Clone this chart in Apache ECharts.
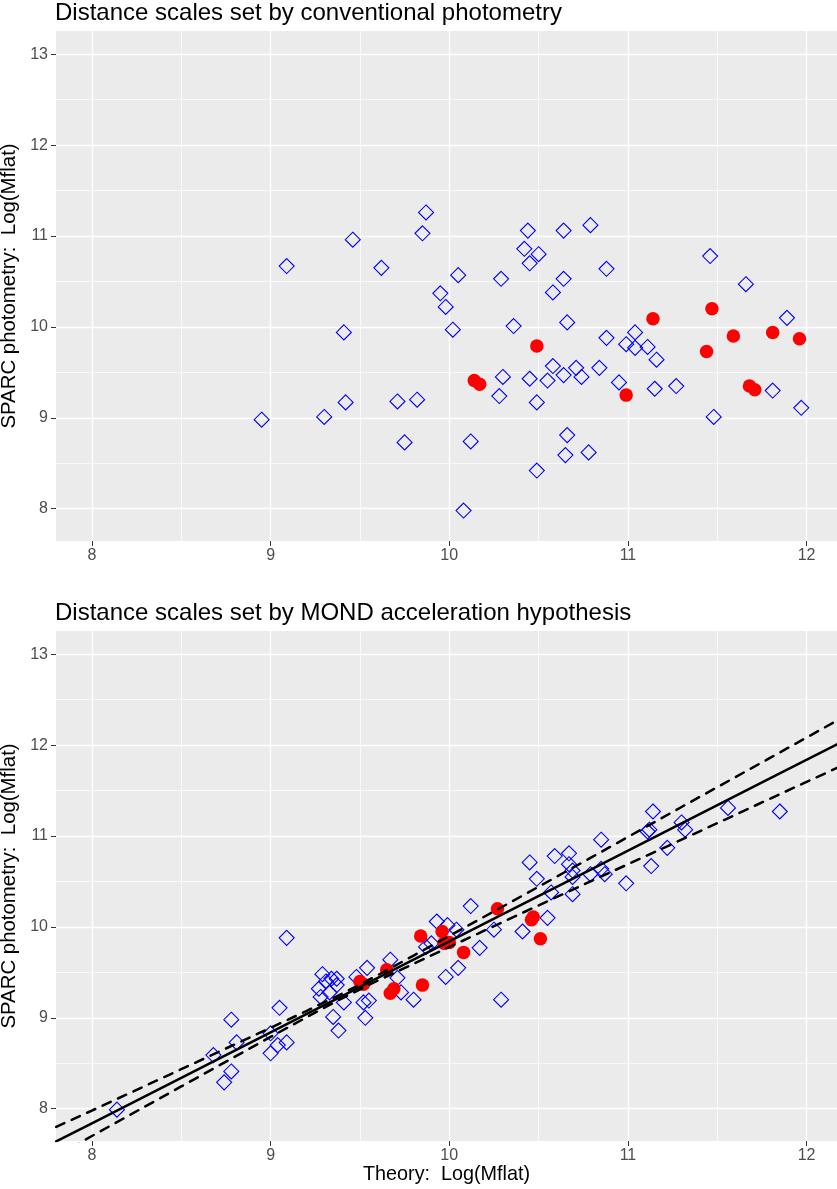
<!DOCTYPE html>
<html>
<head>
<meta charset="utf-8">
<script src="https://cdn.jsdelivr.net/npm/echarts@6/dist/echarts.min.js"></script>
<style>
html,body{margin:0;padding:0;background:#ffffff;}
#chart{width:837px;height:1189px;}
</style>
</head>
<body>
<div id="chart"></div>
<script>
// ---------- data ----------
const titles = ['Distance scales set by conventional photometry', 'Distance scales set by MOND acceleration hypothesis'];
const xAxisTitle = 'Theory:  Log(Mflat)';
const yAxisTitle = 'SPARC photometry:  Log(Mflat)';
const xTicks = [8, 9, 10, 11, 12];
const yTicks = [8, 9, 10, 11, 12, 13];
const xMinor = [8.5, 9.5, 10.5, 11.5];
const yMinor = [8.5, 9.5, 10.5, 11.5, 12.5];

// top panel: open blue diamonds
const topOpen = [
  [8.95,8.98],[9.09,10.67],[9.30,9.01],[9.41,9.94],[9.42,9.17],[9.46,10.96],[9.62,10.65],
  [9.71,9.18],[9.75,8.73],[9.82,9.20],[9.85,11.03],[9.87,11.26],[9.95,10.37],[9.98,10.22],
  [10.02,9.97],[10.05,10.57],[10.08,7.98],[10.12,8.74],[10.29,10.53],[10.30,9.45],[10.28,9.24],
  [10.36,10.01],[10.42,10.86],[10.44,11.06],[10.45,10.70],[10.50,10.80],[10.45,9.43],[10.49,9.17],
  [10.49,8.42],[10.58,10.38],[10.58,9.57],[10.55,9.41],[10.64,9.47],[10.66,10.05],[10.64,11.06],
  [10.64,10.53],[10.66,8.81],[10.65,8.59],[10.71,9.55],[10.74,9.45],[10.78,8.62],[10.79,11.12],
  [10.84,9.55],[10.88,10.64],[10.88,9.88],[10.95,9.39],[10.99,9.81],[11.04,9.94],[11.04,9.77],
  [11.11,9.78],[11.16,9.64],[11.15,9.32],[11.27,9.35],[11.46,10.78],[11.48,9.01],[11.66,10.47],
  [11.89,10.10],[11.81,9.30],[11.97,9.11]
];
// top panel: filled red circles
const topFilled = [
  [10.14,9.41],[10.17,9.37],[10.49,9.79],[10.99,9.25],[11.14,10.09],[11.47,10.20],
  [11.44,9.73],[11.59,9.90],[11.68,9.35],[11.71,9.31],[11.81,9.94],[11.96,9.87]
];
// bottom panel: open blue diamonds
const botOpen = [
  [8.14,7.99],[8.68,8.59],[8.78,8.98],[8.81,8.73],[8.78,8.41],[8.74,8.29],[9.05,9.11],
  [9.00,8.83],[9.00,8.61],[9.04,8.70],[9.09,8.73],[9.09,9.88],
  [9.27,9.32],[9.28,9.23],[9.29,9.48],[9.31,9.40],[9.33,9.28],[9.34,9.43],[9.37,9.43],[9.37,9.36],
  [9.35,9.01],[9.38,8.86],[9.41,9.17],[9.48,9.45],[9.54,9.55],[9.53,9.00],[9.52,9.17],
  [9.55,9.19],[9.67,9.64],[9.71,9.44],[9.73,9.28],[9.80,9.20],[9.87,9.78],
  [9.93,10.06],[9.99,10.02],[10.04,9.97],[9.90,9.82],[10.05,9.55],[9.98,9.45],[10.12,10.23],
  [10.25,9.97],[10.17,9.77],[10.29,9.20],[10.41,9.95],[10.55,10.10],
  [10.49,10.53],[10.57,10.38],[10.69,10.36],[10.45,10.71],[10.59,10.78],[10.67,10.81],
  [10.67,10.69],[10.69,10.62],[10.69,10.55],[10.79,10.58],[10.85,10.64],[10.87,10.58],
  [10.85,10.96],[10.99,10.48],
  [11.14,11.27],[11.11,11.05],[11.12,11.07],[11.30,11.15],[11.32,11.07],[11.22,10.87],
  [11.13,10.67],[11.56,11.31],[11.85,11.27]
];
// bottom panel: filled red circles
const botFilled = [
  [9.50,9.40],[9.52,9.37],[9.65,9.53],[9.67,9.27],[9.69,9.32],[9.84,9.90],[9.85,9.36],
  [9.96,9.95],[9.97,9.82],[10.00,9.83],[10.08,9.72],[10.27,10.20],[10.46,10.08],[10.47,10.11],[10.51,9.87]
];
// bottom panel: fitted line and dashed band
const fitX   = [7.80, 8.00, 8.50, 9.00, 9.20, 9.40, 9.60, 9.80, 10.30, 10.80, 11.30, 11.80, 12.17];
const fitY   = [7.64, 7.84, 8.34, 8.84, 9.04, 9.24, 9.44, 9.64, 10.14, 10.64, 11.14, 11.64, 12.01];
const upperY = [7.80, 7.98, 8.435, 8.89, 9.075, 9.265, 9.47, 9.685, 10.225, 10.77, 11.32, 11.865, 12.27];
const lowerY = [7.48, 7.70, 8.245, 8.79, 9.005, 9.215, 9.41, 9.595, 10.055, 10.51, 10.96, 11.415, 11.75];

// ---------- layout / style ----------
const X_MIN = 7.799, X_MAX = 12.17;
const Y_MIN = 7.645, Y_MAX = 13.256;
const FONT = '"Liberation Sans", Arial, sans-serif';
const PANEL_LEFT = 56, PANEL_H = 510;
const PANEL_TOPS = [31, 631];

const chart = echarts.init(document.getElementById('chart'), null, {renderer: 'canvas'});

function gridLinesSeries(i) {
  return {
    type: 'scatter', xAxisIndex: i, yAxisIndex: i, data: [], silent: true, z: 1,
    markLine: {
      silent: true, symbol: 'none', animation: false, z: 1,
      label: {show: false},
      emphasis: {disabled: true},
      data: [].concat(
        xMinor.map(v => ({xAxis: v, lineStyle: {color: '#ffffff', width: 0.7, type: 'solid', opacity: 1}})),
        yMinor.map(v => ({yAxis: v, lineStyle: {color: '#ffffff', width: 0.7, type: 'solid', opacity: 1}})),
        xTicks.map(v => ({xAxis: v, lineStyle: {color: '#ffffff', width: 1.4, type: 'solid', opacity: 1}})),
        yTicks.map(v => ({yAxis: v, lineStyle: {color: '#ffffff', width: 1.4, type: 'solid', opacity: 1}}))
      )
    }
  };
}
function openSeries(i, data) {
  return {
    type: 'scatter', xAxisIndex: i, yAxisIndex: i, data: data, z: 2,
    symbol: 'diamond', symbolSize: 15,
    itemStyle: {color: 'rgba(0,0,0,0)', borderColor: '#0000FF', borderWidth: 1.1, opacity: 1},
    emphasis: {disabled: true}, animation: false
  };
}
function filledSeries(i, data) {
  return {
    type: 'scatter', xAxisIndex: i, yAxisIndex: i, data: data, z: 3,
    symbol: 'circle', symbolSize: 13.5,
    itemStyle: {color: '#FF0000', borderWidth: 0, opacity: 1},
    emphasis: {disabled: true}, animation: false
  };
}
function lineSeries(ys, dashed) {
  return {
    type: 'line', xAxisIndex: 1, yAxisIndex: 1, z: 4,
    data: fitX.map((x, k) => [x, ys[k]]),
    showSymbol: false, symbol: 'none', clip: true, animation: false,
    lineStyle: {color: '#000000', width: 2.5, type: dashed ? [9, 8] : 'solid', cap: 'round', opacity: 1},
    emphasis: {disabled: true}
  };
}

const grids = PANEL_TOPS.map(t => ({left: PANEL_LEFT, right: 0, top: t, height: PANEL_H,
  show: true, backgroundColor: '#EBEBEB', borderWidth: 0, containLabel: false, outerBoundsMode: 'none'}));

const xAxes = [0, 1].map(i => ({
  type: 'value', gridIndex: i, min: X_MIN, max: X_MAX,
  axisLine: {show: false},
  axisTick: {show: true, length: 5, customValues: xTicks, lineStyle: {color: '#333333', width: 1}},
  axisLabel: {show: true, customValues: xTicks, color: '#4D4D4D', fontSize: 16, fontFamily: FONT, margin: 7},
  splitLine: {show: false}, minorSplitLine: {show: false},
  name: i === 1 ? xAxisTitle : '', nameLocation: 'middle', nameGap: 24,
  nameTextStyle: {color: '#000000', fontSize: 19.8, fontFamily: FONT, lineHeight: 20}
}));
const yAxes = [0, 1].map(i => ({
  type: 'value', gridIndex: i, min: Y_MIN, max: Y_MAX,
  axisLine: {show: false},
  axisTick: {show: true, length: 5, customValues: yTicks, lineStyle: {color: '#333333', width: 1}},
  axisLabel: {show: true, customValues: yTicks, color: '#4D4D4D', fontSize: 16, fontFamily: FONT, margin: 8},
  splitLine: {show: false}, minorSplitLine: {show: false},
  name: yAxisTitle, nameLocation: 'middle', nameRotate: 90, nameGap: 31,
  nameTextStyle: {color: '#000000', fontSize: 20.4, fontFamily: FONT, lineHeight: 20}
}));

const option = {
  animation: false,
  backgroundColor: '#ffffff',
  title: titles.map((t, i) => ({
    text: t, left: PANEL_LEFT - 1, top: PANEL_TOPS[i] - 31, padding: 0,
    textStyle: {color: '#000000', fontSize: 24, fontWeight: 'normal', fontFamily: FONT, lineHeight: 26}
  })),
  grid: grids,
  xAxis: xAxes,
  yAxis: yAxes,
  series: [
    gridLinesSeries(0), openSeries(0, topOpen), filledSeries(0, topFilled),
    gridLinesSeries(1), openSeries(1, botOpen), filledSeries(1, botFilled),
    lineSeries(fitY, false), lineSeries(upperY, true), lineSeries(lowerY, true)
  ]
};
chart.setOption(option);
</script>
</body>
</html>
